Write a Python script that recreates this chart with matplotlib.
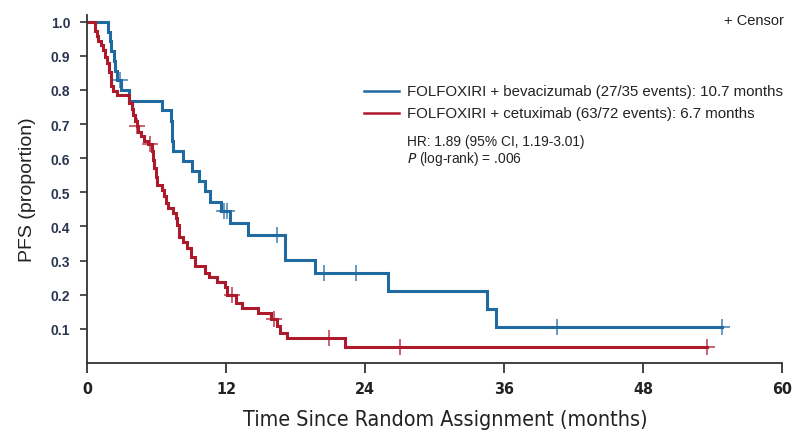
import matplotlib.pyplot as plt
from matplotlib import font_manager

# PFS curve steps: (month, proportion after the drop)
bev_time = [0, 1.8, 1.95, 2.1, 2.3, 2.45, 2.6, 2.95, 3.65, 6.5, 7.25, 7.3, 7.4, 8.3,
            9.1, 9.7, 10.2, 10.6, 11.6, 12.35, 13.9, 17.1, 19.7, 26.0, 34.5, 35.3]
bev_surv = [1.0, 0.971, 0.943, 0.914, 0.886, 0.857, 0.829, 0.799, 0.769, 0.740, 0.710,
            0.651, 0.621, 0.592, 0.562, 0.533, 0.503, 0.473, 0.444, 0.410, 0.376,
            0.301, 0.263, 0.211, 0.158, 0.105]
bev_censor_t = [2.85, 11.8, 12.1, 16.4, 20.5, 23.2, 40.6, 54.8]
bev_censor_s = [0.829, 0.444, 0.444, 0.376, 0.263, 0.263, 0.105, 0.105]

cet_time = [0, 0.69, 0.84, 0.98, 1.18, 1.35, 1.55, 1.7, 1.9, 2.07, 2.2, 2.56, 3.65,
            3.86, 4.0, 4.15, 4.29, 4.43, 4.63, 4.92, 5.3, 5.58, 5.73, 5.81, 5.93,
            6.07, 6.45, 6.68, 6.8, 6.97, 7.45, 7.65, 7.75, 7.95, 8.3, 8.6, 8.95,
            9.33, 10.2, 10.5, 11.25, 11.9, 12.06, 12.9, 13.4, 14.8, 15.9, 16.4,
            16.7, 17.3, 22.3]
cet_surv = [1.0, 0.972, 0.958, 0.944, 0.931, 0.917, 0.897, 0.878, 0.853, 0.811, 0.797,
            0.785, 0.763, 0.743, 0.727, 0.708, 0.693, 0.678, 0.664, 0.651, 0.641,
            0.620, 0.595, 0.571, 0.546, 0.522, 0.507, 0.488, 0.468, 0.454, 0.439,
            0.424, 0.405, 0.370, 0.356, 0.338, 0.312, 0.284, 0.265, 0.251, 0.238,
            0.224, 0.199, 0.175, 0.160, 0.146, 0.129, 0.108, 0.089, 0.074, 0.047]
cet_censor_t = [4.35, 5.45, 12.5, 16.1, 20.9, 27.0, 53.5]
cet_censor_s = [0.693, 0.641, 0.199, 0.129, 0.074, 0.047, 0.047]

bev_label = 'FOLFOXIRI + bevacizumab (27/35 events): 10.7 months'
cet_label = 'FOLFOXIRI + cetuximab (63/72 events): 6.7 months'

x_ticks = [0, 12, 24, 36, 48, 60]
y_ticks = [0.1, 0.2, 0.3, 0.4, 0.5, 0.6, 0.7, 0.8, 0.9, 1.0]

blue = '#1f6aa0'
red = '#ad1a2c'

# condensed face for the time axis, if the system has one
has_condensed = any(f.name == 'DejaVu Sans' and f.stretch == 'condensed'
                    for f in font_manager.fontManager.ttflist)
axis_font = dict(family='DejaVu Sans', stretch='condensed') if has_condensed \
    else dict(family='DejaVu Sans')
xlabel_size = 15.4 if has_condensed else 14

plt.rcParams['font.family'] = ['Liberation Sans', 'DejaVu Sans']

fig = plt.figure(figsize=(7.94, 4.39), dpi=100)
ax = fig.add_axes([0.1096, 0.1708, 0.8753, 0.793])


def draw_curve(t, s, ct, cs, color, last_t):
    xs = list(t) + [last_t]
    ys = list(s) + [s[-1]]
    ax.step(xs, ys, where='post', color=color, lw=2.2, solid_joinstyle='miter')
    ax.plot(ct, cs, linestyle='none', marker='+', markersize=11,
            markeredgewidth=1.1, color=color, alpha=0.85)


draw_curve(bev_time, bev_surv, bev_censor_t, bev_censor_s, blue, max(bev_censor_t))
draw_curve(cet_time, cet_surv, cet_censor_t, cet_censor_s, red, max(cet_censor_t))

ax.set_xlim(0, 60)
ax.set_ylim(0, 1.02)
ax.set_xticks(x_ticks)
ax.set_yticks(y_ticks)
ax.set_yticklabels([f'{v:.1f}' for v in y_ticks], fontsize=10, fontweight='bold',
                   color='#2b3550')
ax.set_xticklabels([str(v) for v in x_ticks], fontsize=11.5, fontweight='bold',
                   color='#222222', **axis_font)
ax.tick_params(axis='y', length=5, width=1.2, color='#333333', pad=7)
ax.tick_params(axis='x', length=7, width=1.2, color='#222222', pad=6)

for side in ['top', 'right']:
    ax.spines[side].set_visible(False)
for side in ['left', 'bottom']:
    ax.spines[side].set_linewidth(1.3)
    ax.spines[side].set_color('#333333')

ax.set_ylabel('PFS (proportion)', fontsize=14, color='#222222', labelpad=11)
ax.set_xlabel('Time Since Random Assignment (months)', fontsize=xlabel_size,
              color='#222222', labelpad=9, **axis_font)
ax.xaxis.label.set_x(0.515)

# legend block and statistics
ax.text(1.003, 0.985, '+ Censor', transform=ax.transAxes, fontsize=10.5, ha='right',
        va='center', color='#222222')
ax.plot([23.9, 26.9], [0.798, 0.798], color=blue, lw=1.8)
ax.plot([23.9, 26.9], [0.733, 0.733], color=red, lw=1.8)
ax.text(27.6, 0.798, bev_label, fontsize=10.8, va='center', color='#222222')
ax.text(27.6, 0.733, cet_label, fontsize=10.8, va='center', color='#222222')
ax.text(27.6, 0.650, 'HR: 1.89 (95% CI, 1.19-3.01)', fontsize=9.9, va='center',
        color='#222222')
ax.text(27.6, 0.600, r'$\it{P}$ (log-rank) = .006', fontsize=9.9, va='center',
        color='#222222')

fig.savefig('out.png', dpi=100)
